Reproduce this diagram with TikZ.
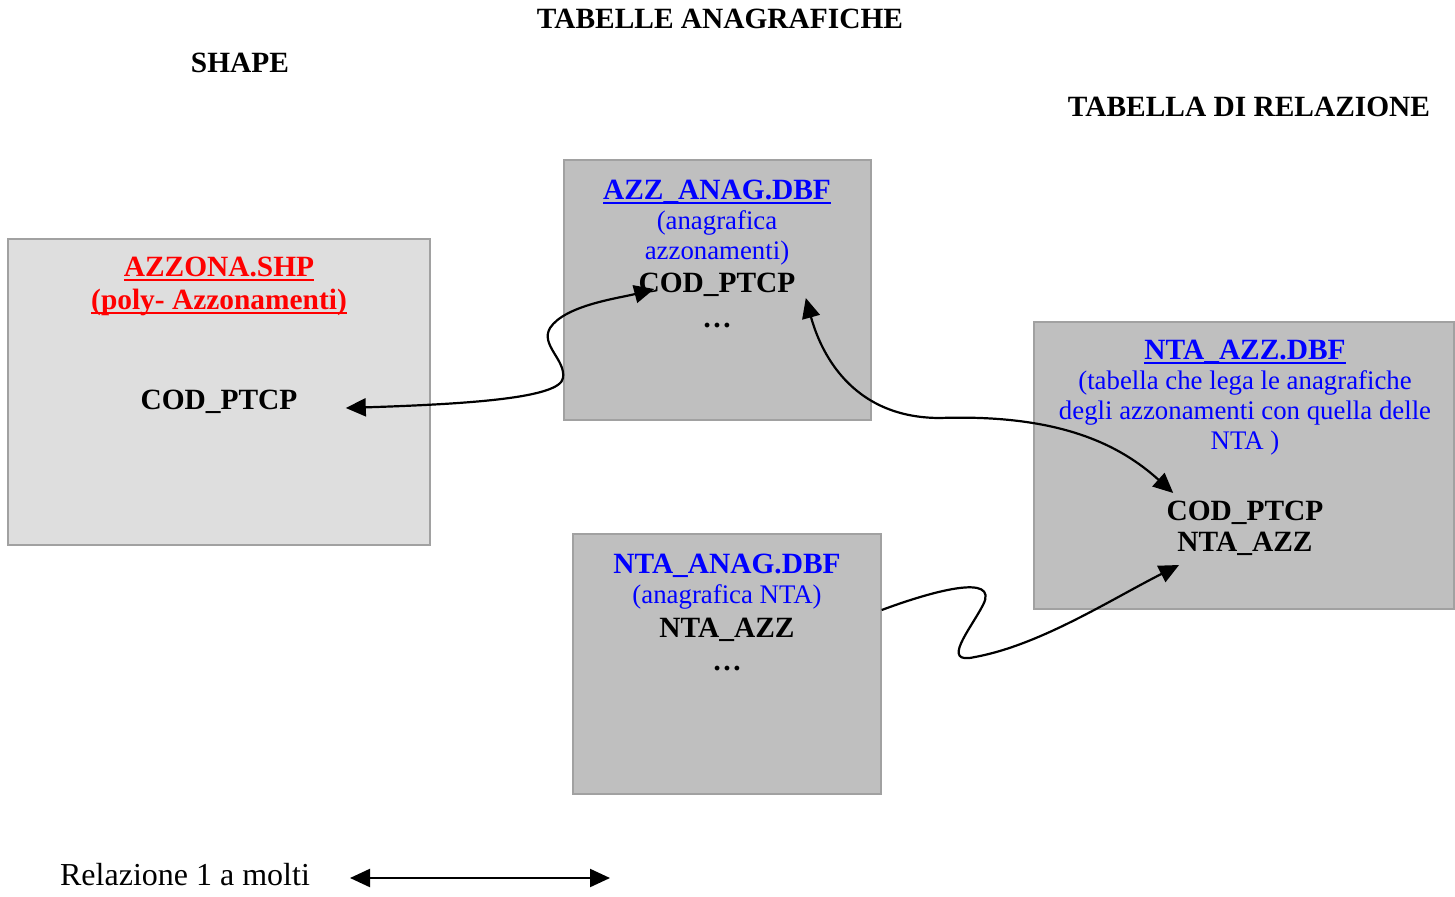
\documentclass[tikz,border=0pt]{standalone}
\usepackage{fontspec}
\setmainfont{Liberation Serif}
\usepackage{tikz}
\usetikzlibrary{arrows.meta,calc}

% underline sitting just under the baseline
\newcommand{\ulin}[1]{\setbox0=\hbox{#1}\rlap{\rule[-2pt]{\wd0}{0.9pt}}\box0}

\begin{document}
\begin{tikzpicture}[x=0.5pt,y=-0.5pt,every node/.style={font=\fontsize{13.4}{15}\selectfont}]

    \tikzstyle{shpbox} = [draw=black!37, fill=black!13, line width=0.7pt, inner sep=0pt];
    \tikzstyle{dbfbox} = [draw=black!37, fill=black!25, line width=0.7pt, inner sep=0pt];
    \tikzstyle{txt} = [anchor=base, inner sep=0pt];
    \tikzstyle{head} = [txt, font=\fontsize{14.7}{16}\selectfont\bfseries];
    \tikzstyle{rel} = [draw, line width=1.1pt, {Triangle[length=10pt,width=9pt]}-{Triangle[length=10pt,width=9pt]}];
    \tikzstyle{relto} = [draw, line width=1.1pt, -{Triangle[length=10pt,width=9pt]}];

    \useasboundingbox (0,0) rectangle (1455,897);

    % headings
    \node[head] (title) at (720,28.5) {TABELLE ANAGRAFICHE};
    \node[head] (shape) at (240,72.5) {SHAPE};
    \node[head] (reltab) at (1249,116.5) {TABELLA DI RELAZIONE};

    % tables
    \node[shpbox, minimum width=211pt, minimum height=153pt] (shp) at (219,392) {};
    \node[dbfbox, minimum width=153.5pt, minimum height=130pt] (azz) at (717.5,290) {};
    \node[dbfbox, minimum width=210pt, minimum height=143.5pt] (ntaazz) at (1244,465.5) {};
    \node[dbfbox, minimum width=154pt, minimum height=130pt] (ntaanag) at (727,664) {};

    % AZZONA.SHP
    \node[head, red] (shpname) at (219,277) {\ulin{AZZONA.SHP}};
    \node[head, red] (shpdesc) at (219,310) {\ulin{(poly- Azzonamenti)}};
    \node[head] (shpcod) at (219,410) {COD\_PTCP};

    % AZZ_ANAG.DBF
    \node[head, blue] (azzname) at (717,200) {\ulin{AZZ\_ANAG.DBF}};
    \node[txt, blue] (azzdesc1) at (717,230) {(anagrafica};
    \node[txt, blue] (azzdesc2) at (717,260) {azzonamenti)};
    \node[head] (azzcod) at (717,293) {COD\_PTCP};
    \node[head] (azzmore) at (717,328) {…};

    % NTA_AZZ.DBF
    \node[head, blue] (ntaazzname) at (1245,360) {\ulin{NTA\_AZZ.DBF}};
    \node[txt, blue] (ntaazzdesc1) at (1245,390) {(tabella che lega le anagrafiche};
    \node[txt, blue] (ntaazzdesc2) at (1245,420) {degli azzonamenti con quella delle};
    \node[txt, blue] (ntaazzdesc3) at (1245,450) {NTA )};
    \node[head] (ntaazzcod) at (1245,520) {COD\_PTCP};
    \node[head] (ntaazzfld) at (1245,552) {NTA\_AZZ};

    % NTA_ANAG.DBF
    \node[head, blue] (ntaanagname) at (727,573) {NTA\_ANAG.DBF};
    \node[txt, blue] (ntaanagdesc) at (727,603) {(anagrafica NTA)};
    \node[head] (ntaanagfld) at (727,637) {NTA\_AZZ};
    \node[head] (ntaanagmore) at (727,670) {…};

    % relations
    \path[rel] ($(shpcod.base east)+(48,-2)$)
        .. controls (470,404) and (560,398) .. (563,378)
        .. controls (566,360) and (540,345) .. (550,328)
        .. controls (565,305) and (620,298) .. ($(azzcod.base west)+(16,-4)$);
    \path[rel] ($(azzcod.base east)+(10,5)$)
        .. controls (820,350) and (850,418) .. (940,418)
        .. controls (1060,414) and (1120,445) .. ($(ntaazzcod.base west)+(7,-27)$);
    \path[relto] ($(ntaanag.east)+(0,-54)$)
        .. controls (930,592) and (1000,572) .. (983,605)
        .. controls (970,630) and (940,665) .. (975,657)
        .. controls (1040,645) and (1110,600) .. ($(ntaazzfld.base west)+(2,13)$);

    % legend
    \node[txt, font=\fontsize{16}{18}\selectfont] (legend) at (185,885) {Relazione 1 a molti};
    \coordinate (legl) at (350,878);
    \coordinate (legr) at (610,878);
    \path[rel] (legl) -- (legr);

\end{tikzpicture}
\end{document}
